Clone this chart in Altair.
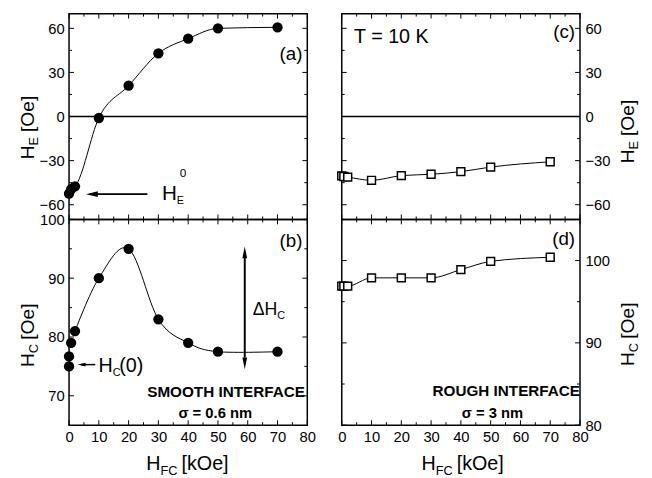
import altair as alt
import pandas as pd

FONT = "Liberation Sans"

# ---------------- data ----------------
hfc_smooth_he = [0, 0.7, 2, 10, 20, 30, 40, 50, 70]
he_smooth = [-52.5, -49.5, -47.5, -1, 21, 43, 53, 60, 60.7]

hfc_smooth_hc = [0, 0, 0.7, 2, 10, 20, 30, 40, 50, 70]
hc_smooth = [75, 76.7, 79, 81, 90, 95, 83, 79, 77.5, 77.5]

hfc_rough = [0, 0.7, 2, 10, 20, 30, 40, 50, 70]
he_rough = [-40.4, -40.8, -41.2, -43.4, -40.2, -39.3, -37.5, -34.4, -30.8]
hc_rough = [96.9, 96.9, 96.9, 97.9, 97.9, 97.9, 98.9, 99.9, 100.4]

x_ticks_major = [0, 10, 20, 30, 40, 50, 60, 70, 80]
x_ticks_minor = [5, 15, 25, 35, 45, 55, 65, 75]
he_ticks_major = [-60, -30, 0, 30, 60]
he_ticks_minor = [-45, -15, 15, 45]
hcs_ticks_major = [70, 80, 90, 100]
hcs_ticks_minor = [75, 85, 95]
hcr_ticks_major = [80, 90, 100]
hcr_ticks_minor = [85, 95]

W, H = 242, 209
XDOM = [0, 80]
HE_DOM = [-70, 70]
HCS_DOM = [65, 100]
HCR_DOM = [80, 105]

ARROW_L = "M 0 0 L 2 -0.5 L 2 0.5 Z"
ARROW_U = "M 0 0 L -0.4 2 L 0.4 2 Z"
ARROW_D = "M 0 0 L -0.4 -2 L 0.4 -2 Z"


def yaxis(values, orient):
    return alt.Axis(values=values, orient=orient, ticks=False, domain=False, grid=False,
                    labelFont=FONT, labelFontSize=15, labelColor="black", labelPadding=5,
                    labelFlush=False, labelOverlap=False, title=None)


def xaxis(show):
    if not show:
        return None
    return alt.Axis(values=x_ticks_major, ticks=False, domain=False, grid=False,
                    labelFont=FONT, labelFontSize=15, labelColor="black", labelPadding=5,
                    labelFlush=False, labelOverlap=False, title=None)


class Panel:
    def __init__(self, ydom, yorient, yvals, show_x):
        self.ydom = ydom
        self.yorient = yorient
        self.yvals = yvals
        self.show_x = show_x

    def X(self, f):
        return alt.X(f, scale=alt.Scale(domain=XDOM, nice=False, zero=False), axis=xaxis(self.show_x))

    def Y(self, f):
        return alt.Y(f, scale=alt.Scale(domain=self.ydom, nice=False, zero=False),
                     axis=yaxis(self.yvals, self.yorient))

    def ticks(self, ymin):
        layers = []
        for vals, L in ((x_ticks_major, 5), (x_ticks_minor, 3)):
            base = alt.Chart(pd.DataFrame({"v": vals})).mark_rule(color="black", strokeWidth=1)
            layers.append(base.encode(x=self.X("v:Q"), y=alt.value(H), y2=alt.value(H - L)))
            layers.append(base.encode(x=self.X("v:Q"), y=alt.value(0), y2=alt.value(L)))
        for vals, L in ((self.yvals, 5), (ymin, 3)):
            base = alt.Chart(pd.DataFrame({"v": vals})).mark_rule(color="black", strokeWidth=1)
            layers.append(base.encode(y=self.Y("v:Q"), x=alt.value(0), x2=alt.value(L)))
            layers.append(base.encode(y=self.Y("v:Q"), x=alt.value(W), x2=alt.value(W - L)))
        return layers

    def zero(self):
        return alt.Chart(pd.DataFrame({"z": [0]})).mark_rule(color="black", strokeWidth=1.5).encode(
            y=self.Y("z:Q"))

    def hrule(self, x1, x2, y, sw):
        return alt.Chart(pd.DataFrame({"a": [x1], "b": [x2], "c": [y]})).mark_rule(
            color="black", strokeWidth=sw).encode(x=self.X("a:Q"), x2="b:Q", y=self.Y("c:Q"))

    def vrule(self, x, y1, y2, sw):
        return alt.Chart(pd.DataFrame({"a": [x], "b": [y1], "c": [y2]})).mark_rule(
            color="black", strokeWidth=sw).encode(x=self.X("a:Q"), y=self.Y("b:Q"), y2="c:Q")

    def head(self, x, y, shape, size):
        return alt.Chart(pd.DataFrame({"a": [x], "b": [y]})).mark_point(
            shape=shape, filled=True, color="black", opacity=1, size=size, strokeWidth=0).encode(
            x=self.X("a:Q"), y=self.Y("b:Q"))


def txt(s, x, y, size, dx=0, dy=0, angle=0, align="left", baseline="alphabetic", weight="normal"):
    kw = dict(font=FONT, fontSize=size, color="black", align=align, baseline=baseline,
              fontWeight=weight, dx=dx, dy=dy)
    if angle:
        kw["angle"] = angle
    return alt.Chart(pd.DataFrame({"t": [s]})).mark_text(**kw).encode(
        text="t:N", x=alt.value(x), y=alt.value(y))


def ytitle(sub, x, y):
    fs, sfs = 19.5, 13
    return [
        txt("H", x, y, fs, angle=270),
        txt(sub, x, y, sfs, dx=0.722 * fs, dy=4, angle=270),
        txt("[Oe]", x, y, fs, dx=0.722 * fs + 0.667 * sfs + 5, angle=270),
    ]


def xtitle(x, y):
    fs, sfs = 20, 13
    return [
        txt("H", x, y, fs),
        txt("FC", x, y, sfs, dx=0.722 * fs, dy=5),
        txt("[kOe]", x, y, fs, dx=0.722 * fs + 1.333 * sfs + 4),
    ]


# ---------------- panel (a) ----------------
pa = Panel(HE_DOM, "left", he_ticks_major, False)
df_a = pd.DataFrame({"hfc": hfc_smooth_he, "v": he_smooth})
panel_a = alt.layer(
    alt.Chart(df_a).mark_line(color="black", strokeWidth=1, interpolate="monotone").encode(
        x=pa.X("hfc:Q"), y=pa.Y("v:Q")),
    pa.zero(),
    alt.Chart(df_a).mark_point(shape="circle", filled=True, color="black", opacity=1, size=110).encode(
        x=pa.X("hfc:Q"), y=pa.Y("v:Q")),
    *pa.ticks(he_ticks_minor),
    pa.hrule(26.3, 7, -52.8, 1.8),
    pa.head(5.7, -52.8, ARROW_L, 144),
    txt("H", 94.5, 189, 21),
    txt("E", 94.5, 189, 11, dx=15, dy=4),
    txt("0", 94.5, 189, 12, dx=18, dy=-23),
    txt("(a)", W - 5, 41, 19, align="right", baseline="middle"),
    *ytitle("E", -36, 148),
).properties(width=W, height=H)

# ---------------- panel (b) ----------------
pb = Panel(HCS_DOM, "left", hcs_ticks_major, True)
df_b = pd.DataFrame({"hfc": hfc_smooth_hc, "v": hc_smooth})
panel_b = alt.layer(
    alt.Chart(df_b).transform_filter(alt.datum.hfc >= 2).mark_line(
        color="black", strokeWidth=1, interpolate="cardinal").encode(x=pb.X("hfc:Q"), y=pb.Y("v:Q")),
    alt.Chart(df_b).mark_point(shape="circle", filled=True, color="black", opacity=1, size=110).encode(
        x=pb.X("hfc:Q"), y=pb.Y("v:Q")),
    *pb.ticks(hcs_ticks_minor),
    pb.hrule(8.8, 4, 75.3, 1.5),
    pb.head(2.9, 75.3, ARROW_L, 64),
    pb.vrule(59, 76.5, 93.5, 2),
    pb.head(59, 95.4, ARROW_U, 144),
    pb.head(59, 74.5, ARROW_D, 144),
    txt("H", 30, 155, 20),
    txt("C", 30, 155, 11, dx=14.4, dy=4),
    txt("(0)", 30, 155, 20, dx=21),
    txt("ΔH", 186.5, 97, 18),
    txt("C", 186.5, 97, 11, dx=25, dy=4),
    txt("SMOOTH INTERFACE", 239.5, 180, 15.5, align="right", weight="bold"),
    txt("σ = 0.6 nm", 148.5, 202, 15, align="center", weight="bold"),
    txt("(b)", W - 5, 22, 19, align="right", baseline="middle"),
    *ytitle("C", -36, 150),
    *xtitle(78.5, 255),
).properties(width=W, height=H)

# ---------------- panel (c) ----------------
pc = Panel(HE_DOM, "right", he_ticks_major, False)
df_c = pd.DataFrame({"hfc": hfc_rough, "v": he_rough})
panel_c = alt.layer(
    alt.Chart(df_c).mark_line(color="black", strokeWidth=1, interpolate="monotone").encode(
        x=pc.X("hfc:Q"), y=pc.Y("v:Q")),
    pc.zero(),
    alt.Chart(df_c).mark_point(shape="square", filled=True, fill="white", stroke="black",
                               strokeWidth=1.5, opacity=1, size=64).encode(x=pc.X("hfc:Q"), y=pc.Y("v:Q")),
    *pc.ticks(he_ticks_minor),
    txt("T = 10 K", 12.5, 23.5, 20, baseline="middle"),
    txt("(c)", W - 5, 19, 19, align="right", baseline="middle"),
    *ytitle("E", 296.5, 152),
).properties(width=W, height=H)

# ---------------- panel (d) ----------------
pd_ = Panel(HCR_DOM, "right", hcr_ticks_major, True)
df_d = pd.DataFrame({"hfc": hfc_rough, "v": hc_rough})
panel_d = alt.layer(
    alt.Chart(df_d).mark_line(color="black", strokeWidth=1, interpolate="monotone").encode(
        x=pd_.X("hfc:Q"), y=pd_.Y("v:Q")),
    alt.Chart(df_d).mark_point(shape="square", filled=True, fill="white", stroke="black",
                               strokeWidth=1.5, opacity=1, size=64).encode(x=pd_.X("hfc:Q"), y=pd_.Y("v:Q")),
    *pd_.ticks(hcr_ticks_minor),
    txt("ROUGH INTERFACE", W, 179, 15.5, align="right", weight="bold"),
    txt("σ = 3 nm", 153, 202, 15, align="center", weight="bold"),
    txt("(d)", W - 5, 20, 19, align="right", baseline="middle"),
    *ytitle("C", 296.5, 149),
    *xtitle(81, 255),
).properties(width=W, height=H)

chart = alt.concat(
    panel_a, panel_c, panel_b, panel_d,
    columns=2,
    spacing=alt.RowColnumber(row=0, column=35),
    bounds="flush",
).properties(
    padding={"left": 9, "top": 0, "right": 2, "bottom": 0},
    background="white",
).configure_view(stroke="black", strokeWidth=1.5)

chart.save("out.html", embed_options={"renderer": "svg", "actions": False})
